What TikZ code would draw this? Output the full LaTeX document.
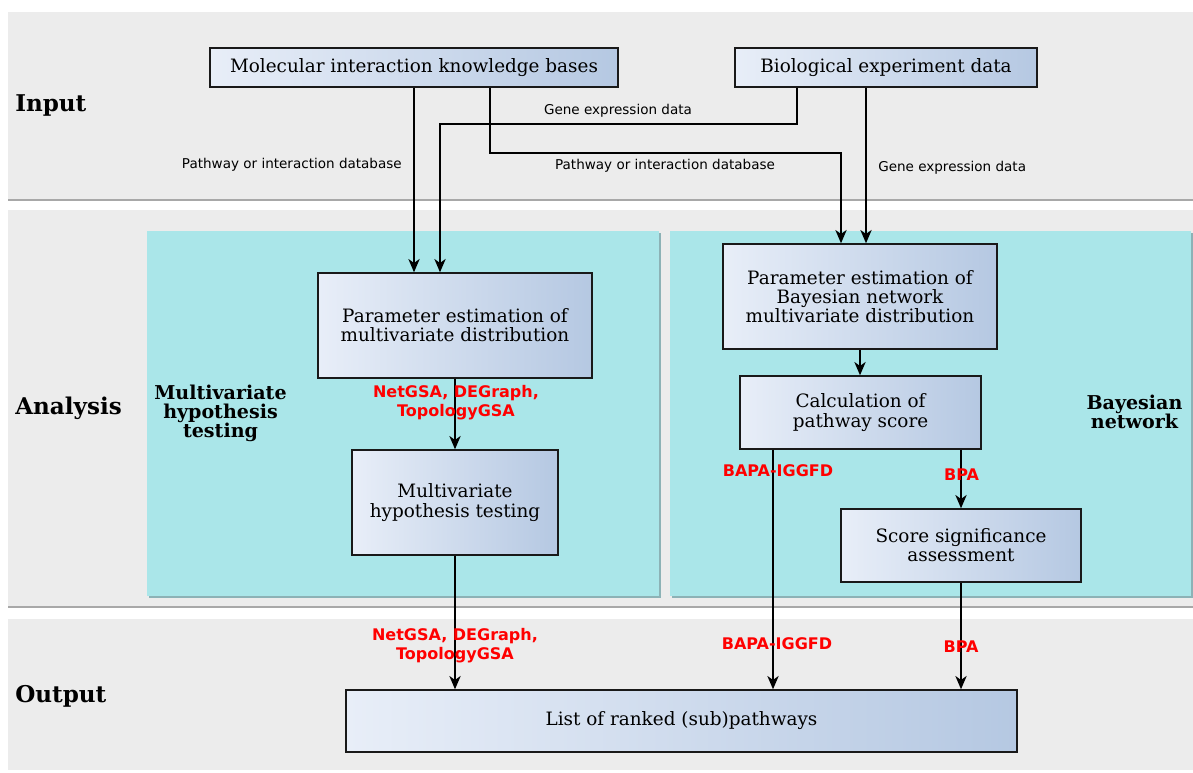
\documentclass[tikz,border=0pt]{standalone}
\usepackage{fontspec}
\setmainfont{DejaVu Serif}
\newfontfamily\labelfont{DejaVu Sans}
\usetikzlibrary{arrows.meta}

\definecolor{bandgray}{RGB}{236,236,236}
\definecolor{sepgray}{RGB}{168,168,168}
\definecolor{panelcyan}{RGB}{170,230,233}
\definecolor{panelshadow}{RGB}{140,178,182}
\definecolor{boxleft}{RGB}{232,238,248}
\definecolor{boxright}{RGB}{181,200,226}

\tikzset{
  procbox/.style={draw=black!90, line width=1.1pt, left color=boxleft, right color=boxright,
    align=center, inner sep=0pt, font=\fontsize{13.8}{14.4}\selectfont},
  arr/.style={-{Stealth[length=10pt,width=8.5pt,inset=3pt]}, line width=1.05pt},
  flowlabel/.style={font=\labelfont\fontsize{10.15}{12}\selectfont, inner sep=0pt},
  toollabel/.style={font=\labelfont\bfseries\fontsize{12}{14.3}\selectfont, text=red, align=center},
  bandlabel/.style={font=\bfseries\fontsize{17.3}{19}\selectfont, anchor=west, inner sep=0pt},
  panellabel/.style={font=\bfseries\fontsize{14.3}{14.3}\selectfont, align=center},
}

\begin{document}
\begin{tikzpicture}[x=0.75pt,y=-0.75pt]
\useasboundingbox (0,0) rectangle (1193,772);

% horizontal bands
\fill[bandgray] (8,12) rectangle (1193,200);
\draw[sepgray, line width=1.2pt] (8,200) -- (1193,200);
\fill[bandgray] (8,210) rectangle (1193,607);
\draw[sepgray, line width=1.2pt] (8,607) -- (1193,607);
\fill[bandgray] (8,619) rectangle (1193,770);

\node[bandlabel] (lin) at (15,105) {Input};
\node[bandlabel] (lan) at (15,408) {Analysis};
\node[bandlabel] (lout) at (15,696) {Output};

% method panels
\fill[panelshadow] (149,233) rectangle (661,598);
\fill[panelcyan] (147,231) rectangle (659,596);
\fill[panelshadow] (672,233) rectangle (1193,598);
\fill[panelcyan] (670,231) rectangle (1191,596);

\node[panellabel] (pl1) at (220.5,413) {Multivariate\\hypothesis\\testing};
\node[panellabel] (pl2) at (1134.5,412) {Bayesian\\network};

% process boxes
\node[procbox, minimum width=306pt, minimum height=29.25pt] (mik) at (414,67.5) {Molecular interaction knowledge bases};
\node[procbox, minimum width=226.5pt, minimum height=29.25pt] (bio) at (886,67.5) {Biological experiment data};
\node[procbox, minimum width=205.5pt, minimum height=78.75pt] (pmv) at (455,325.5) {Parameter estimation of\\multivariate distribution};
\node[procbox, minimum width=154.5pt, minimum height=78.75pt] (mht) at (455,502.5) {Multivariate\\hypothesis testing};
\node[procbox, minimum width=205.5pt, minimum height=78.75pt] (pbn) at (860,296.5) {Parameter estimation of\\Bayesian network\\multivariate distribution};
\node[procbox, minimum width=180.75pt, minimum height=54.75pt] (calc) at (860.5,412.5) {Calculation of\\pathway score};
\node[procbox, minimum width=180pt, minimum height=54.75pt] (ssa) at (961,545.5) {Score significance\\assessment};
\node[procbox, minimum width=503.25pt, minimum height=46.5pt] (list) at (681.5,721) {List of ranked (sub)pathways};

% routing points
\coordinate (j1) at (490,153);
\coordinate (j2) at (841,153);
\coordinate (g1) at (797,124);
\coordinate (g2) at (440,124);
\coordinate (g3) at (866,0);
\coordinate (b1) at (773,0);

% input connectors
\draw[arr] (mik.south) -- (mik.south |- pmv.north);
\draw[arr] (mik.south -| j1) |- (j2) -- (j2 |- pbn.north);
\draw[arr] (bio.south -| g1) |- (g2) -- (g2 |- pmv.north);
\draw[arr] (bio.south -| g3) -- (g3 |- pbn.north);

\node[flowlabel, anchor=east] (f1) at (402,165) {Pathway or interaction database};
\node[flowlabel] (f2) at (665,166) {Pathway or interaction database};
\node[flowlabel] (f3) at (618,111) {Gene expression data};
\node[flowlabel, anchor=west] (f4) at (878,168) {Gene expression data};

% analysis connectors
\draw[arr] (pmv.south) -- (mht.north);
\draw[arr] (mht.south) -- (mht.south |- list.north);
\draw[arr] (pbn.south) -- (pbn.south |- calc.north);
\draw[arr] (ssa.north |- calc.south) -- (ssa.north);
\draw[arr] (calc.south -| b1) -- (b1 |- list.north);
\draw[arr] (ssa.south) -- (ssa.south |- list.north);

% method names
\node[toollabel] (t1) at (456,403) {NetGSA, DEGraph,\\TopologyGSA};
\node[toollabel] (t2) at (778,470.5) {BAPA-IGGFD};
\node[toollabel] (t3) at (961.5,475) {BPA};
\node[toollabel] (t4) at (455,646) {NetGSA, DEGraph,\\TopologyGSA};
\node[toollabel] (t5) at (777,643.5) {BAPA-IGGFD};
\node[toollabel] (t6) at (961,647) {BPA};
\end{tikzpicture}
\end{document}
